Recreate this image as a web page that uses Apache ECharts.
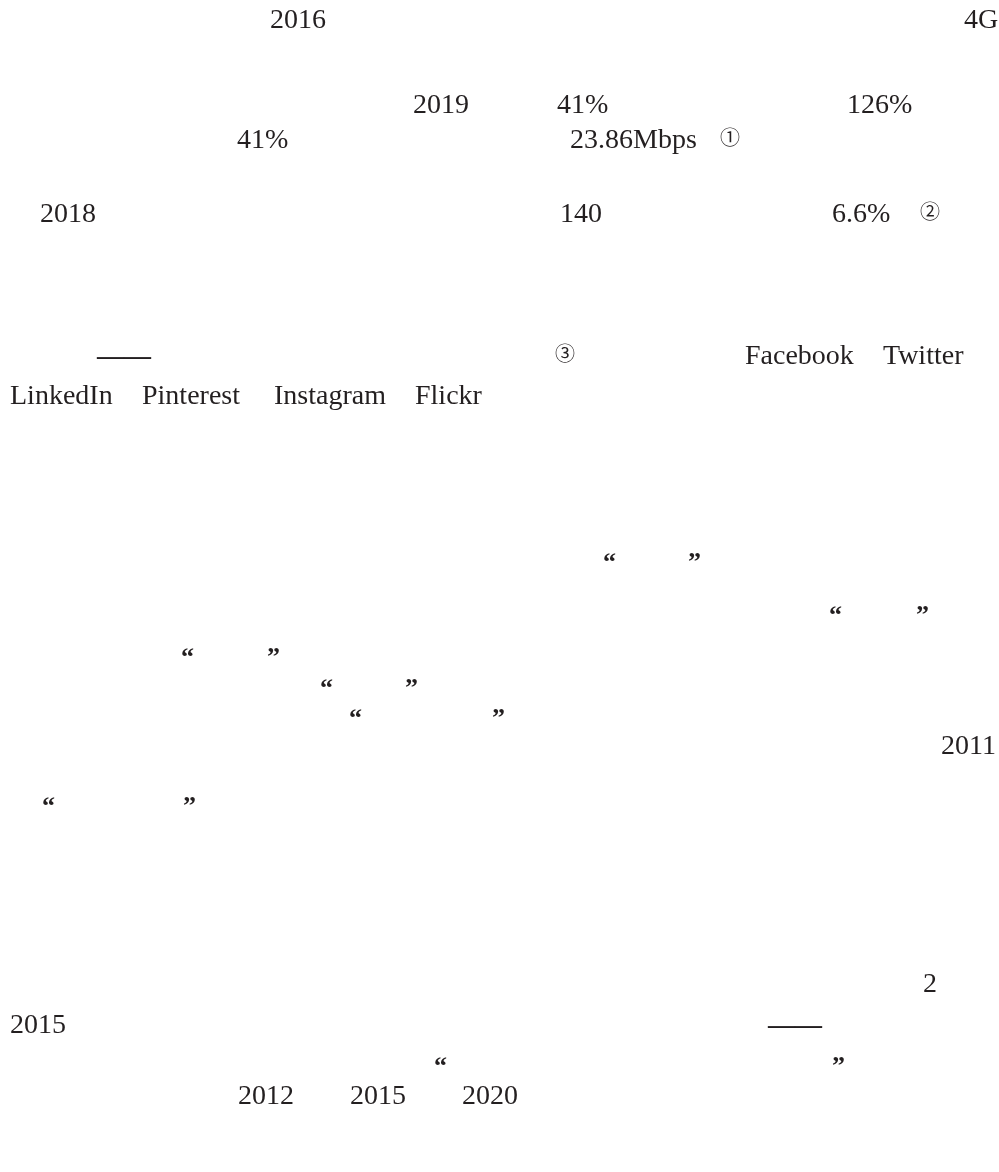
<!DOCTYPE html>
<html>
<head>
<meta charset="utf-8">
<script src="https://cdn.jsdelivr.net/npm/echarts@6/dist/echarts.min.js"></script>
<style>
html,body{margin:0;padding:0;background:#fff;}
#main{width:999px;height:1172px;}
</style>
</head>
<body>
<div id="main"></div>
<script>
// Visible text fragments of the page (the CJK glyphs are not rendered in the reference)
const line1 = ['2016', '4G'];
const line2 = ['2019', '41%', '126%'];
const line3 = ['41%', '23.86Mbps', '①'];
const line4 = ['2018', '140', '6.6%', '②'];
const line5 = ['——', '③', 'Facebook', 'Twitter'];
const line6 = ['LinkedIn', 'Pinterest', 'Instagram', 'Flickr'];
const quotes1 = ['“', '”'];
const quotes2 = ['“', '”'];
const quotes3 = ['“', '”'];
const quotes4 = ['“', '”'];
const quotes5 = ['“', '”'];
const line12 = ['2011'];
const quotes6 = ['“', '”'];
const line14 = ['2'];
const line15 = ['2015', '——'];
const quotes7 = ['“', '”'];
const yearsLine = ['2012', '2015', '2020'];

// Layout: [texts, x positions, line centre y, kind]
const layout = [
  [line1, [270, 964], 21, 't'],
  [line2, [413, 557, 847], 106, 't'],
  [line3, [237, 570, 720], 141, 't'],
  [line4, [40, 560, 832, 920], 215, 't'],
  [line5, [97, 555, 745, 883], 357, 't'],
  [line6, [10, 142, 274, 415], 397, 't'],
  [quotes1, [603, 688], 556, 'q'],
  [quotes2, [829, 916], 609, 'q'],
  [quotes3, [181, 267], 651, 'q'],
  [quotes4, [320, 405], 682, 'q'],
  [quotes5, [349, 492], 712, 'q'],
  [line12, [941], 747, 't'],
  [quotes6, [42, 183], 800, 'q'],
  [line14, [923], 985, 't'],
  [line15, [10, 768], 1026, 't'],
  [quotes7, [434, 832], 1060, 'q'],
  [yearsLine, [238, 350, 462], 1097, 't']
];

const FONT = '"Liberation Serif","Times New Roman",serif';
const graphics = [];
layout.forEach(function (row) {
  const texts = row[0], xs = row[1], y = row[2], kind = row[3];
  texts.forEach(function (t, i) {
    const circled = /[①②③]/.test(t);
    const dash = t === '——';
    let font = '28px ' + FONT;
    if (circled) font = '20px "Noto Sans CJK SC","DejaVu Sans",sans-serif';
    else if (kind === 'q') font = 'bold 26px ' + FONT;
    else if (dash) font = 'bold 27px ' + FONT;
    graphics.push({
      type: 'text',
      x: xs[i],
      y: kind === 'q' ? y + 7 : (circled ? y - 4 : y),
      style: {
        text: t,
        fill: '#231f20',
        font: font,
        verticalAlign: 'middle',
        align: 'left'
      }
    });
  });
});

const chart = echarts.init(document.getElementById('main'), null, {renderer: 'canvas'});
chart.setOption({
  backgroundColor: '#ffffff',
  animation: false,
  graphic: graphics
});
</script>
</body>
</html>
